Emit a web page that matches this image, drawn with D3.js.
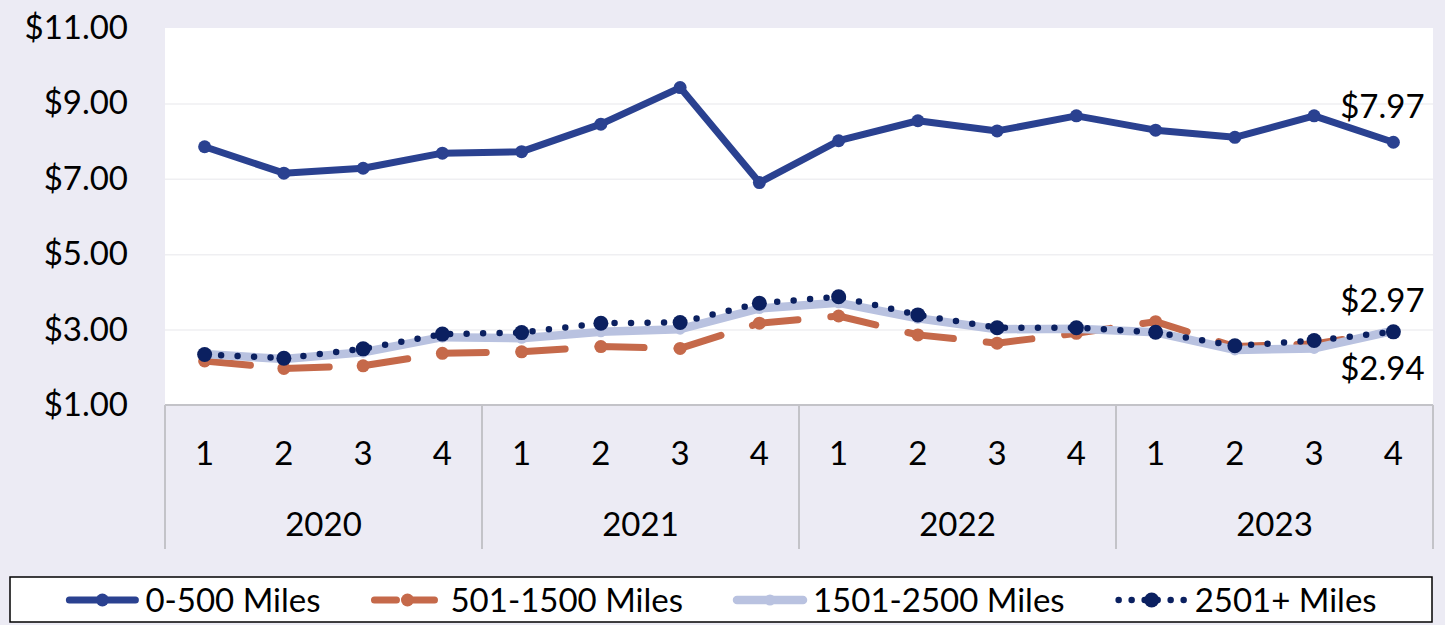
<!DOCTYPE html>
<meta charset="utf-8">
<html><head>
<style>
body { margin: 0; background: #ecebf4; }
text { font-family: Lato, "Noto Sans", sans-serif; fill: #000; }
.grid line { stroke: #efeff2; stroke-width: 1.5px; }
.grid .domain { display: none; }
</style>
</head>
<body>
<svg width="1445" height="625"></svg>
<script src="https://d3js.org/d3.v7.min.js"></script>
<script>

var years = ["2020", "2021", "2022", "2023"];
var quarters = ["1", "2", "3", "4"];
var yTicks = [1, 3, 5, 7, 9, 11];

var miles0to500 = [7.85, 7.15, 7.28, 7.68, 7.72, 8.45, 9.42, 6.90, 8.01, 8.54, 8.27, 8.67, 8.29, 8.10, 8.67, 7.97];
var miles501to1500 = [2.17, 1.97, 2.04, 2.37, 2.41, 2.55, 2.50, 3.17, 3.36, 2.86, 2.64, 2.90, 3.21, 2.55, 2.62, 2.95];
var miles1501to2500 = [2.35, 2.22, 2.40, 2.80, 2.77, 2.94, 3.01, 3.56, 3.71, 3.30, 3.01, 3.02, 2.93, 2.46, 2.50, 2.97];
var miles2501plus = [2.34, 2.24, 2.49, 2.88, 2.92, 3.17, 3.19, 3.70, 3.87, 3.39, 3.05, 3.05, 2.93, 2.57, 2.71, 2.94];

var categories = [];
years.forEach(function(yr) {
  quarters.forEach(function(q) { categories.push(yr + "-" + q); });
});

var series = [
  { name: "0-500 Miles", values: miles0to500, color: "#2a4190", width: 7, dash: null, legDash: null, r: 6.5 },
  { name: "501-1500 Miles", values: miles501to1500, color: "#c5694a", width: 7, dash: "46,33", legDash: "22,16", r: 6.5 },
  { name: "1501-2500 Miles", values: miles1501to2500, color: "#b9c2e0", width: 8.5, dash: null, legDash: null, r: 5.5 },
  { name: "2501+ Miles", values: miles2501plus, color: "#0b2060", width: 6.5, dash: "0,16.5", legDash: "0,13", r: 7.5 }
];

var svg = d3.select("svg");
var plotL = 165, plotR = 1433, plotT = 28, plotB = 405, axisEnd = 549;

var x = d3.scaleBand().domain(categories).range([plotL, plotR]);
var xYear = d3.scaleBand().domain(years).range([plotL, plotR]);
var y = d3.scaleLinear().domain([1, 11]).range([plotB, plotT]);

// plot area
svg.append("rect")
    .attr("x", plotL).attr("y", plotT)
    .attr("width", plotR - plotL).attr("height", plotB - plotT)
    .attr("fill", "#fff");

svg.append("g")
    .attr("class", "grid")
    .attr("transform", "translate(" + plotL + ",0)")
    .call(d3.axisLeft(y).tickValues(yTicks.slice(1, -1)).tickSize(-(plotR - plotL)).tickFormat(""));

// y axis labels
svg.append("g")
    .attr("transform", "translate(" + plotL + ",0)")
    .call(d3.axisLeft(y).tickValues(yTicks).tickSize(0).tickPadding(37)
      .tickFormat(function(d) { return "$" + d.toFixed(2); }))
    .call(function(g) {
      g.select(".domain").remove();
      g.selectAll("text").attr("font-size", 33).attr("font-family", "Lato, sans-serif").attr("fill", "#000");
    });

// category axis table
var axisG = svg.append("g");
axisG.append("line")
    .attr("x1", plotL).attr("x2", plotR).attr("y1", plotB).attr("y2", plotB)
    .attr("stroke", "#c3c3c8").attr("stroke-width", 2);
axisG.selectAll(".sep")
    .data(years.concat(["end"]))
    .enter().append("line")
    .attr("x1", function(d, i) { return plotL + i * xYear.bandwidth(); })
    .attr("x2", function(d, i) { return plotL + i * xYear.bandwidth(); })
    .attr("y1", plotB).attr("y2", axisEnd)
    .attr("stroke", "#c3c3c8").attr("stroke-width", 2);

axisG.selectAll(".q")
    .data(categories)
    .enter().append("text")
    .attr("x", function(d) { return x(d) + x.bandwidth() / 2; })
    .attr("y", 465)
    .attr("text-anchor", "middle")
    .attr("font-size", 33)
    .text(function(d) { return d.split("-")[1]; });

axisG.selectAll(".yr")
    .data(years)
    .enter().append("text")
    .attr("x", function(d) { return xYear(d) + xYear.bandwidth() / 2; })
    .attr("y", 536)
    .attr("text-anchor", "middle")
    .attr("font-size", 33)
    .text(function(d) { return d; });

// lines
var line = d3.line()
    .x(function(d, i) { return x(categories[i]) + x.bandwidth() / 2; })
    .y(function(d) { return y(d); });

series.forEach(function(s) {
  var g = svg.append("g");
  g.append("path")
      .attr("d", line(s.values))
      .attr("fill", "none")
      .attr("stroke", s.color)
      .attr("stroke-width", s.width)
      .attr("stroke-linejoin", "round")
      .attr("stroke-linecap", "round")
      .attr("stroke-dasharray", s.dash);
  g.selectAll("circle")
      .data(s.values)
      .enter().append("circle")
      .attr("cx", function(d, i) { return x(categories[i]) + x.bandwidth() / 2; })
      .attr("cy", function(d) { return y(d); })
      .attr("r", s.r)
      .attr("fill", s.color);
});

// end labels
var lastX = x(categories[categories.length - 1]) + x.bandwidth() / 2;
var endLabels = [
  { v: miles0to500[15], dy: -24 },
  { v: miles1501to2500[15], dy: -19 },
  { v: miles2501plus[15], dy: 48 }
];
svg.selectAll(".endlab")
    .data(endLabels)
    .enter().append("text")
    .attr("x", lastX - 11)
    .attr("y", function(d) { return y(d.v) + d.dy; })
    .attr("text-anchor", "middle")
    .attr("font-size", 33)
    .text(function(d) { return "$" + d.v.toFixed(2); });

// legend
var legend = svg.append("g");
legend.append("rect")
    .attr("x", 10).attr("y", 577)
    .attr("width", 1422).attr("height", 45)
    .attr("fill", "#fff")
    .attr("stroke", "#000").attr("stroke-width", 1.5);

var items = legend.selectAll(".item")
    .data(series)
    .enter().append("g");

items.append("text")
    .attr("font-size", 33)
    .attr("y", 612)
    .text(function(d) { return d.name; });

var widths = [];
items.select("text").each(function() { widths.push(this.getComputedTextLength()); });
var sampleW = 74, gapT = 6, gapItem = 50;
var total = d3.sum(widths) + series.length * (sampleW + gapT) + (series.length - 1) * gapItem;
var cx = 10 + (1422 - total) / 2;
var legendStarts = [];
widths.forEach(function(w) { legendStarts.push(cx); cx += sampleW + gapT + w + gapItem; });

items.select("text").attr("x", function(d, i) { return legendStarts[i] + sampleW + gapT; });
items.insert("line", "text")
    .attr("x1", function(d, i) { return legendStarts[i] + 4; })
    .attr("x2", function(d, i) { return legendStarts[i] + sampleW - 4; })
    .attr("y1", 600).attr("y2", 600)
    .attr("stroke", function(d) { return d.color; })
    .attr("stroke-width", function(d) { return d.width; })
    .attr("stroke-linecap", "round")
    .attr("stroke-dasharray", function(d) { return d.legDash; });
items.insert("circle", "text")
    .attr("cx", function(d, i) { return legendStarts[i] + sampleW / 2; })
    .attr("cy", 600)
    .attr("r", function(d) { return d.r; })
    .attr("fill", function(d) { return d.color; });

</script>
</body>
</html>
